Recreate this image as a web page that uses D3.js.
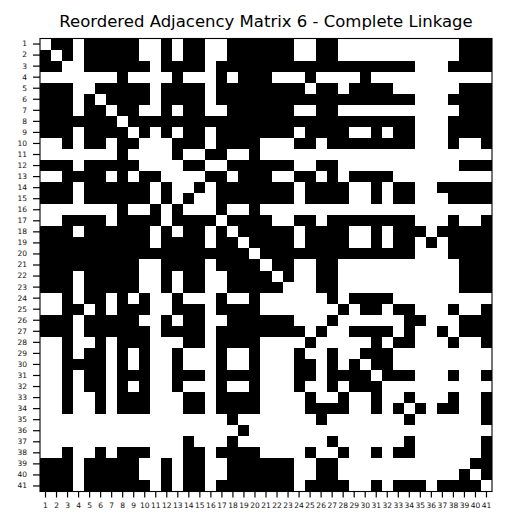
<!DOCTYPE html>
<html>
<head>
<meta charset="utf-8">
<script src="https://cdn.jsdelivr.net/npm/d3@7"></script>
<style>
  body { margin: 0; background: #fff; }
  svg { display: block; font-family: "DejaVu Sans", sans-serif; }
</style>
</head>
<body>
<svg id="chart" width="508" height="526"></svg>
<script>
const title = "Reordered Adjacency Matrix 6 - Complete Linkage";

// node labels, in the reordered (complete linkage) order
const nodes = [1, 2, 3, 4, 5, 6, 7, 8, 9, 10, 11, 12, 13, 14, 15, 16, 17, 18, 19, 20,
  21, 22, 23, 24, 25, 26, 27, 28, 29, 30, 31, 32, 33, 34, 35, 36, 37, 38, 39, 40, 41];

// one string per row, "1" = edge (black), "0" = no edge (white)
const adjacencyRows = [
  "0110111110" + "0101100111" + "1110011000" + "00000000111",
  "1010111110" + "0101100111" + "1110011000" + "00000000111",
  "1100111111" + "0111101111" + "1111111111" + "11110001111",
  "0000000100" + "0010001011" + "1000100001" + "00000000000",
  "1110011111" + "0111101111" + "1111011011" + "11000000111",
  "1110101111" + "0111101111" + "1111111111" + "11110001111",
  "1110110110" + "0101100111" + "1110011000" + "00000000111",
  "1111111011" + "1111111111" + "1111111111" + "11110001111",
  "1110111101" + "0101101111" + "1110111100" + "10110001111",
  "0010110110" + "0011101111" + "0001101111" + "11110001001",
  "0000000100" + "0010011001" + "0000000000" + "00000000000",
  "1110111110" + "0001100111" + "1110011000" + "00000000111",
  "0011110101" + "1000011011" + "1001101011" + "11000000000",
  "1110111111" + "0100101111" + "1110111100" + "10110011111",
  "1110111111" + "0101001111" + "1110111100" + "10110001111",
  "0000000100" + "1010001001" + "0000000000" + "00000000000",
  "0011110111" + "1011110111" + "1001101111" + "11110001001",
  "1110111111" + "0101101011" + "1110111100" + "10111011111",
  "1111111111" + "0111101101" + "1110111100" + "10110101111",
  "1111111111" + "1111111110" + "1111111111" + "11110001111",
  "1111111110" + "0111101111" + "0110011000" + "00000000111",
  "1110111110" + "0101100111" + "1010011000" + "00000000111",
  "1110111110" + "0101100111" + "1100011000" + "00000000111",
  "0010110101" + "0010001001" + "0000001011" + "11000000000",
  "0011010111" + "0011101111" + "0000000101" + "10110001001",
  "1110111110" + "0101100111" + "1110001000" + "00011000111",
  "1110111111" + "0111101111" + "1111010011" + "11010010111",
  "0010010111" + "0001101111" + "0000100000" + "10110001001",
  "0010110101" + "0010001001" + "0001001001" + "11000000000",
  "0011110101" + "0010001001" + "0001101010" + "11000000000",
  "0010110111" + "0011101111" + "0001101111" + "01110001001",
  "0010110101" + "0010001001" + "0001001011" + "10000000000",
  "0010010111" + "0001101111" + "0000100100" + "10010001001",
  "0010010111" + "0001101111" + "0000111100" + "10101011001",
  "0000000000" + "0000000100" + "0000010000" + "00010000001",
  "0000000000" + "0000000010" + "0000000000" + "00000000000",
  "0000000000" + "0001000100" + "0000001000" + "00010000001",
  "0010010111" + "0001101111" + "0000100100" + "10110000001",
  "1110111110" + "0101100111" + "1110011000" + "00000000011",
  "1110111110" + "0101100111" + "1110011000" + "00000000101",
  "1110111111" + "0101101111" + "1110111100" + "10111011110"
];

const svg = d3.select("#chart");
const plot = { left: 40, right: 492, top: 38.5, bottom: 491.5 };

const x = d3.scaleBand().domain(nodes).range([plot.left, plot.right]);
const y = d3.scaleBand().domain(nodes).range([plot.top, plot.bottom]);

const cells = [];
adjacencyRows.forEach((row, i) => {
  row.split("").forEach((v, j) => {
    cells.push({ row: nodes[i], col: nodes[j], value: +v });
  });
});

svg.append("rect")
  .attr("x", plot.left)
  .attr("y", plot.top)
  .attr("width", plot.right - plot.left)
  .attr("height", plot.bottom - plot.top)
  .attr("fill", "#fff");

svg.append("g")
  .attr("shape-rendering", "crispEdges")
  .selectAll("rect")
  .data(cells.filter((d) => d.value === 1))
  .join("rect")
  .attr("x", (d) => x(d.col))
  .attr("y", (d) => y(d.row))
  .attr("width", x.bandwidth())
  .attr("height", y.bandwidth())
  .attr("fill", "#000");

// frame
svg.append("rect")
  .attr("x", plot.left)
  .attr("y", plot.top)
  .attr("width", plot.right - plot.left)
  .attr("height", plot.bottom - plot.top)
  .attr("fill", "none")
  .attr("stroke", "#000")
  .attr("stroke-width", 1.1);

const xAxis = svg.append("g")
  .attr("transform", `translate(0,${plot.bottom})`)
  .call(d3.axisBottom(x).tickSize(6).tickPadding(5));

const yAxis = svg.append("g")
  .attr("transform", `translate(${plot.left},0)`)
  .call(d3.axisLeft(y).tickSize(7).tickPadding(6));

[xAxis, yAxis].forEach((ax) => {
  ax.select(".domain").remove();
  ax.selectAll(".tick line").attr("stroke", "#000").attr("stroke-width", 1.2);
  ax.selectAll(".tick text")
    .attr("fill", "#111")
    .style("font-family", "DejaVu Sans, sans-serif")
    .style("font-size", "7.5px");
});

svg.append("text")
  .attr("x", (plot.left + plot.right) / 2)
  .attr("y", 27)
  .attr("text-anchor", "middle")
  .style("font-size", "16.5px")
  .style("fill", "#000")
  .text(title);
</script>
</body>
</html>
